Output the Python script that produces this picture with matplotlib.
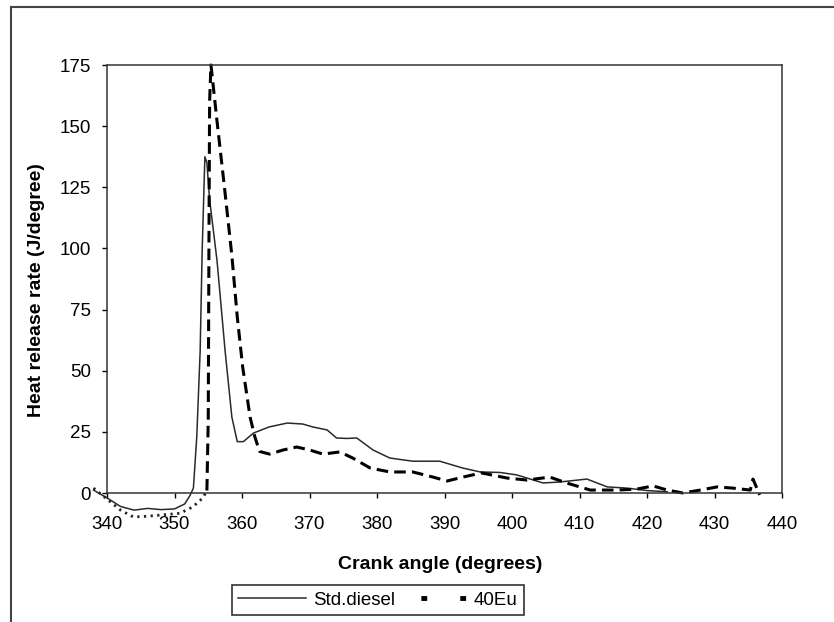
import matplotlib.pyplot as plt
from matplotlib.lines import Line2D
import numpy as np

plt.rcParams['font.family'] = ['Liberation Sans', 'DejaVu Sans']

# Std.diesel (crank angle, heat release rate)
x_std = [338.0, 340, 342, 344, 346, 348, 350, 351.5, 352.3, 352.8, 353.3, 353.8,
         354.1, 354.5, 354.8, 355.2, 356.3, 357.5, 358.5, 359.3, 360.2, 361.7,
         364, 366.7, 369, 370.5, 372.6, 374, 375.5, 377, 379.4, 381.9, 385.3,
         389.3, 392.7, 395.3, 398.2, 400.7, 404.6, 407.1, 411.1, 414.1, 417,
         420, 423]
y_std = [1.2, -2, -5.5, -7, -6.3, -6.8, -6.5, -4.5, -1, 2, 23, 58,
         99, 137.5, 135, 120, 95, 58, 31, 21, 21, 24.5,
         27, 28.6, 28.2, 27, 25.8, 22.5, 22.3, 22.5, 17.6, 14.3, 13,
         13, 10.2, 8.6, 8.4, 7.4, 4.1, 4.5, 5.7, 2.5, 2,
         1, 0.5]

# 40Eu - start of the trace (drawn dotted in the original)
x_eu_pre = [338.0, 340, 342, 343.9, 346, 348, 350.8, 352.7, 354.2, 354.8]
y_eu_pre = [2, -2.5, -7, -9.8, -9.5, -9, -8.3, -5.7, -2, 1]

# 40Eu - rest of the trace
x_eu = [354.8, 355.0, 355.1, 355.2, 355.4, 355.6, 356.3, 357.4, 358.5, 359.3,
        360.1, 361.2, 361.9, 362.6, 364.1, 366.1, 368.1, 370, 372, 374.5,
        376.4, 379, 381.9, 385.3, 388.3, 390.4, 392.7, 395.5, 399.3, 402.2,
        405.6, 408.1, 411.6, 415.6, 418.5, 420.9, 423, 425.3, 427.9, 430.4,
        432.7, 435.3, 435.7, 436.7]
y_eu = [1, 30, 100, 160, 175, 170, 152, 125, 97, 72,
        51.5, 31, 23, 17, 15.9, 17.6, 18.8, 17.6, 15.9, 16.8,
        14.3, 10.2, 8.6, 8.6, 6.5, 4.9, 6.5, 8.2, 6.1, 5.3,
        6.5, 4.1, 1.2, 1.2, 1.6, 2.9, 1.2, 0, 1.2, 2.5,
        2, 1.2, 5.7, -0.8]

fig = plt.figure(figsize=(8.34, 6.22), dpi=100)
ax = fig.add_axes([107/834, 1-493/622, 675/834, 428/622])

ax.plot(x_std, y_std, color='#2a2a2a', lw=1.1, clip_on=False)
ax.plot(x_eu_pre, y_eu_pre, color='#222222', lw=2.0, linestyle=(0, (0.8, 1.6)),
        clip_on=False)
ax.plot(x_eu, y_eu, color='black', lw=2.2, dashes=(3.8, 2.0), clip_on=False)

ax.set_xlim(340, 440)
ax.set_ylim(0, 175)
ax.set_xticks(np.arange(340, 441, 10))
ax.set_yticks(np.arange(0, 176, 25))
ax.tick_params(direction='out', length=3.6, width=1, labelsize=13.5)
ax.tick_params(axis='x', pad=13)
ax.tick_params(axis='y', pad=8)
for s in ax.spines.values():
    s.set_linewidth(1.1)
    s.set_color('#333333')

ax.set_xlabel('Crank angle (degrees)', fontsize=14, fontweight='bold', va='center')
ax.xaxis.set_label_coords(0.493, -0.168)
ax.set_ylabel('Heat release rate (J/degree)', fontsize=14, fontweight='bold', va='center')
ax.yaxis.set_label_coords(-0.104, 0.474)

h1 = Line2D([], [], color='#2a2a2a', lw=1.1)
h2 = Line2D([], [], color='black', lw=3.5, linestyle=(3.5, (1.2, 6.8)))
leg = fig.legend([h1, h2], ['Std.diesel', '40Eu'], loc='center',
                 bbox_to_anchor=(378/834, 1-600/622), ncol=2, fontsize=13.5,
                 frameon=True, fancybox=False, handlelength=3.6,
                 columnspacing=0.2, handletextpad=0.4, borderpad=0.35)
leg.get_frame().set_edgecolor('black')
leg.get_frame().set_linewidth(1.2)

# outer chart border (top and left visible)
fig.add_artist(Line2D([11/834, 11/834], [0, 1-7/622], color='#444444', lw=1.5))
fig.add_artist(Line2D([11/834, 1], [1-7/622, 1-7/622], color='#444444', lw=1.5))

fig.savefig('out.png', dpi=100)
